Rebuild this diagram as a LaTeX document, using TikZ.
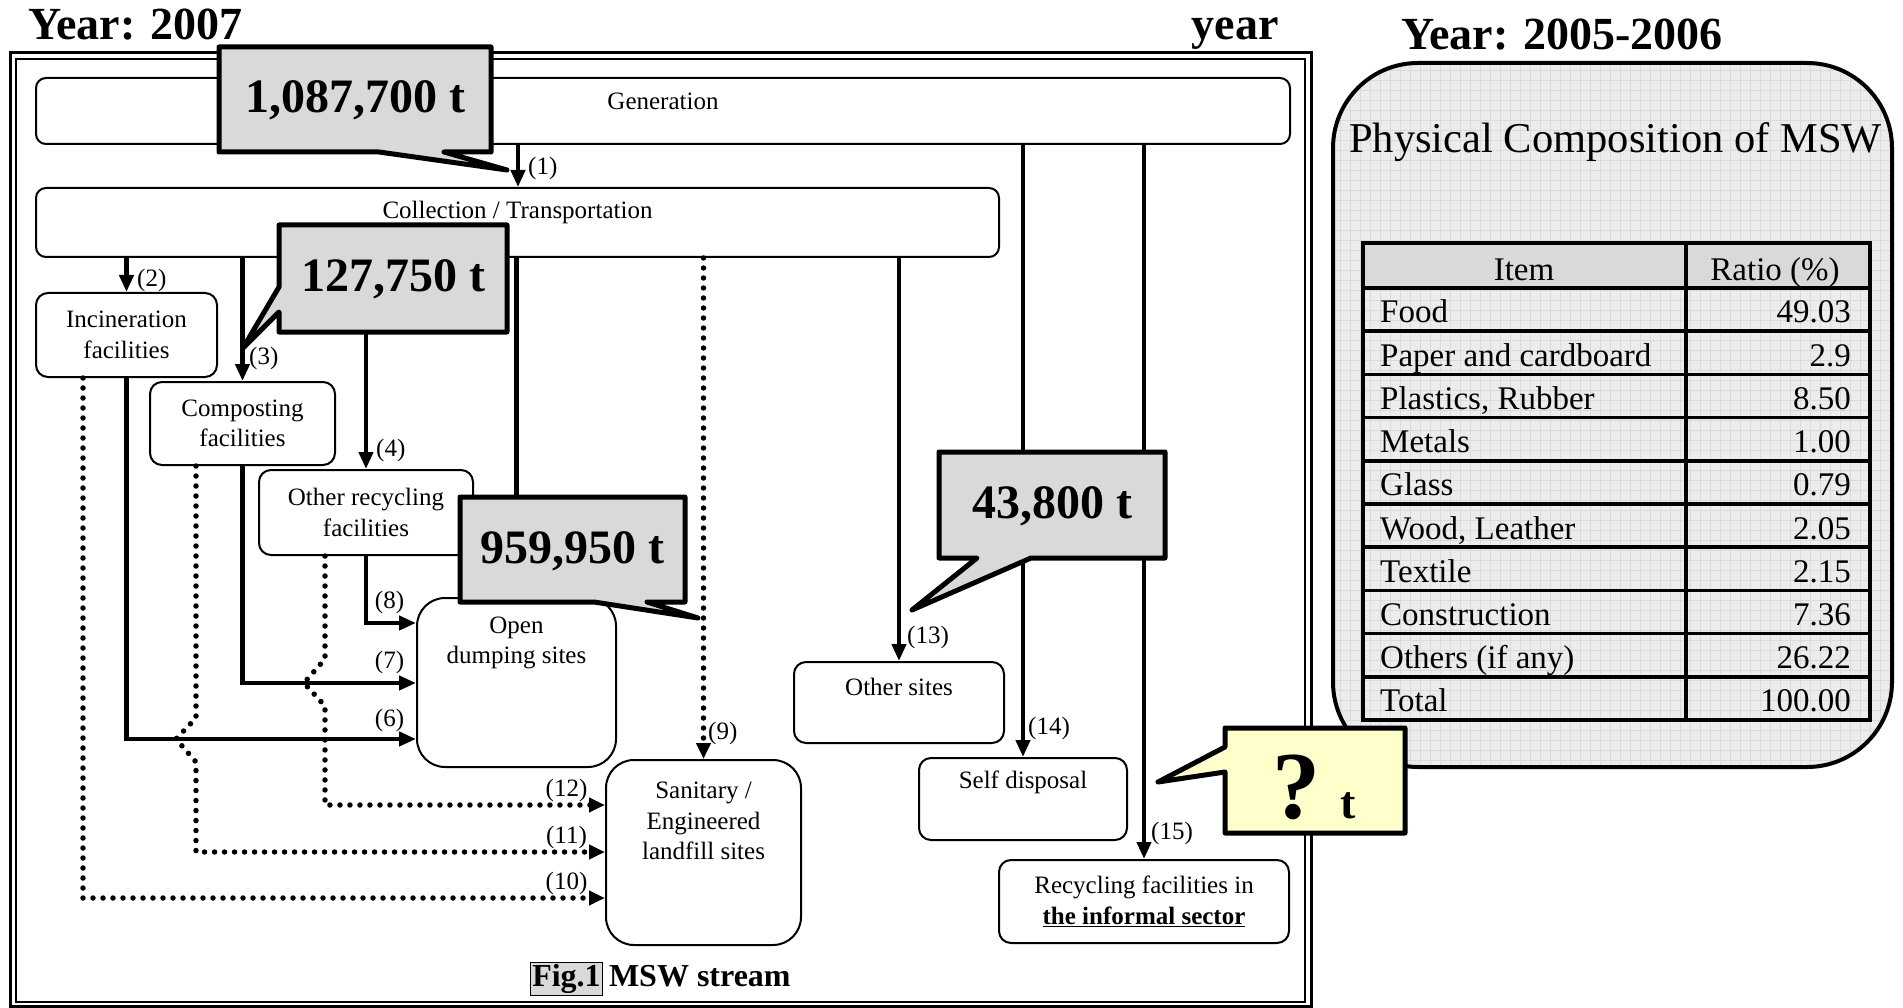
\documentclass[tikz,border=0pt]{standalone}
\usepackage{fontspec}
\setmainfont{Liberation Serif}
\usetikzlibrary{arrows.meta,positioning}
\definecolor{calgray}{HTML}{D9D9D9}
\definecolor{calyellow}{HTML}{FFFFCC}
\definecolor{panelgray}{HTML}{ECECEC}
\definecolor{gridgray}{HTML}{DADADA}
\begin{document}
\begin{tikzpicture}[x=1pt,y=-1pt,
    flowbox/.style={draw, line width=2pt, rounded corners=12pt, fill=white, inner sep=0pt},
    boxtext/.style={font=\fontsize{25}{30.5}\selectfont, align=center},
    num/.style={font=\fontsize{25}{28}\selectfont, inner sep=1pt},
    flow/.style={line width=4.3pt, -{Triangle[length=17pt,width=14pt]}},
    dots/.style={line width=5.5pt, line cap=round, dash pattern=on 0pt off 10pt,
                 -{Triangle[length=16pt,width=14pt]}},
    callout/.style={fill=calgray, draw=black, line width=5pt, line join=round},
    bignum/.style={font=\fontsize{48}{50}\selectfont\bfseries, inner sep=0pt},
    title/.style={font=\fontsize{46}{48}\selectfont\bfseries, inner sep=0pt},
    tableline/.style={draw=black, line width=3.5pt},
    cell/.style={font=\fontsize{33}{36}\selectfont, inner sep=0pt}]
  \useasboundingbox (0,0) rectangle (1903,1008);

  % headings
  \node[title, anchor=base west] (y2007) at (28,40) {Year: 2007};
  \node[title, anchor=base east] (yr) at (1279,40) {year};
  \node[title, anchor=base] (y2005) at (1562,50) {Year: 2005-2006};

  % frame
  \draw[line width=3pt] (10.5,53) rectangle (1311,1006.5);
  \draw[line width=2pt] (15.5,59) rectangle (1305,1002);

  % boxes
  \node[flowbox, rounded corners=10pt, minimum width=1254pt, minimum height=66pt] (gen) at (663,111) {};
  \node[boxtext] at ([yshift=-24pt]gen.north) {Generation};
  \node[flowbox, rounded corners=10pt, minimum width=963pt, minimum height=69pt] (coll) at (517.5,222.5) {};
  \node[boxtext] at ([yshift=-25pt]coll.north) {Collection / Transportation};
  \node[flowbox, minimum width=181pt, minimum height=84pt] (incin) at (126.5,335) {};
  \node[boxtext] at (incin) {Incineration\\facilities};
  \node[flowbox, minimum width=185pt, minimum height=83pt] (compost) at (242.5,423.5) {};
  \node[boxtext] at (compost) {Composting\\facilities};
  \node[flowbox, minimum width=214pt, minimum height=85pt] (recyc) at (366,512.5) {};
  \node[boxtext] at (recyc) {Other recycling\\facilities};
  \node[flowbox, rounded corners=28pt, minimum width=199pt, minimum height=169pt] (dump) at (516.5,682.5) {};
  \node[boxtext] at ([yshift=-46pt]dump.north) {Open\\dumping sites};
  \node[flowbox, rounded corners=28pt, minimum width=195pt, minimum height=185pt] (landfill) at (703.5,852.5) {};
  \node[boxtext] at ([yshift=-62pt]landfill.north) {Sanitary /\\Engineered\\landfill sites};
  \node[flowbox, minimum width=210pt, minimum height=81pt] (othersites) at (899,702.5) {};
  \node[boxtext] at ([yshift=-26pt]othersites.north) {Other sites};
  \node[flowbox, minimum width=208pt, minimum height=82pt] (selfdisp) at (1023,799) {};
  \node[boxtext] at ([yshift=-25pt]selfdisp.north) {Self disposal};
  \node[flowbox, minimum width=290pt, minimum height=83pt] (informal) at (1144,901.5) {};
  \node[boxtext] at (informal) {Recycling facilities in\\\underline{\textbf{the informal sector}}};

  % flows
  \coordinate (p1) at (518,0);
  \draw[flow] (gen.south -| p1) -- (coll.north -| p1);
  \draw[flow] (coll.south -| incin.north) -- (incin.north);
  \draw[flow] (coll.south -| compost.north) -- (compost.north);
  \draw[flow] (coll.south -| recyc.north) -- (recyc.north);
  \draw[flow] (coll.south -| dump.north) -- (dump.north);
  \draw[flow] (incin.south) |- (dump.west |- 0,739);
  \draw[flow] (compost.south) |- (dump.west |- 0,683);
  \draw[flow] (recyc.south) |- (dump.west |- 0,623);
  \draw[dots] (coll.south -| landfill.north) -- (landfill.north);
  \draw[dots] ([xshift=-43.5pt]incin.south) |- (landfill.west |- 0,898);
  \draw[dots] ([xshift=-46.5pt]compost.south) -- (196,718) -- (176,739) -- (196,762)
    |- (landfill.west |- 0,852);
  \draw[dots] ([xshift=-41pt]recyc.south) -- (325,659) -- (304,683) -- (325,706)
    |- (landfill.west |- 0,805);
  \draw[flow] (coll.south -| othersites.north) -- (othersites.north);
  \draw[flow] (gen.south -| selfdisp.north) -- (selfdisp.north);
  \draw[flow] (gen.south -| informal.north) -- (informal.north);

  % flow numbers
  \node[num, anchor=west] (l1) at (527,168) {(1)};
  \node[num, anchor=west] (l2) at (136,280) {(2)};
  \node[num, anchor=west] (l3) at (248,358) {(3)};
  \node[num, anchor=west] (l4) at (375,450) {(4)};
  \node[num] (l6) at (389.5,720) {(6)};
  \node[num] (l7) at (389.5,662) {(7)};
  \node[num] (l8) at (389.5,602) {(8)};
  \node[num, anchor=west] (l9) at (707,733) {(9)};
  \node[num] (l10) at (566.5,883) {(10)};
  \node[num] (l11) at (566.5,837) {(11)};
  \node[num] (l12) at (566.5,790) {(12)};
  \node[num, anchor=west] (l13) at (906,637) {(13)};
  \node[num, anchor=west] (l14) at (1027,728) {(14)};
  \node[num, anchor=west] (l15) at (1150,833) {(15)};

  % callouts
  \filldraw[callout] (219,47) -- (491,47) -- (491,152) -- (444,152) -- (507,170) -- (379,152) -- (219,152) -- cycle;
  \node[bignum] (cgen) at (355,100.5) {1,087,700 t};
  \filldraw[callout] (279,225) -- (507,225) -- (507,332) -- (279,332) -- (279,312) -- (243,348) -- (279,287) -- cycle;
  \node[bignum] (ccoll) at (393,279.5) {127,750 t};
  \filldraw[callout] (460,497) -- (685,497) -- (685,602) -- (647,602) -- (698,618) -- (594,602) -- (460,602) -- cycle;
  \node[bignum] (cdump) at (572.5,551) {959,950 t};
  \filldraw[callout] (939,452) -- (1165,452) -- (1165,558) -- (1031,558) -- (912,610) -- (977,558) -- (939,558) -- cycle;
  \node[bignum] (csites) at (1052,506) {43,800 t};

  % caption
  \node[draw, line width=1.2pt, fill=calgray, inner sep=1.5pt, font=\fontsize{32}{34}\selectfont\bfseries] (fig) at (566.5,979) {Fig.1};
  \node[anchor=base west, inner sep=0pt, font=\fontsize{32}{34}\selectfont\bfseries] (msw) at ([xshift=6pt]fig.base east) {MSW stream};

  % composition panel
  \begin{scope}
    \clip[rounded corners=85pt] (1333,63) rectangle (1892,767);
    \fill[panelgray] (1333,63) rectangle (1892,767);
    \draw[gridgray, line width=0.8pt, step=10pt] (1330,60) grid (1895,770);
  \end{scope}
  \draw[line width=4pt, rounded corners=85pt] (1333,63) rectangle (1892,767);
  \node[anchor=base, inner sep=0pt, font=\fontsize{42.5}{44}\selectfont] (phys) at (1615.5,153) {Physical Composition of MSW};

  \filldraw[tableline, fill=calgray] (1363,243) rectangle (1870,288);
  \node[cell, anchor=base] (hitem) at (1524,280) {Item};
  \node[cell, anchor=base] (hratio) at (1775,280) {Ratio (\%)};
  \foreach \item/\val [count=\i] in {Food/49.03, Paper and cardboard/2.9, {Plastics, Rubber}/8.50,
      Metals/1.00, Glass/0.79, {Wood, Leather}/2.05, Textile/2.15, Construction/7.36,
      Others (if any)/26.22, Total/100.00} {
    \node[cell, anchor=base west] (item\i) at (1380,{288+(\i-1)*43.2+35}) {\item};
    \node[cell, anchor=base east] (val\i) at (1851,{288+(\i-1)*43.2+35}) {\val};
  }
  \foreach \i in {1,...,9}
    \draw[tableline] (1363,{288+\i*43.2}) -- (1870,{288+\i*43.2});
  \draw[tableline] (1686,243) -- (1686,720);
  \draw[tableline] (1363,243) rectangle (1870,720);

  % unknown amount
  \filldraw[callout, fill=calyellow] (1225,728) -- (1405,728) -- (1405,833) -- (1225,833) -- (1225,772) -- (1158,782) -- (1225,747) -- cycle;
  \node[anchor=base west, inner sep=0pt, font=\fontsize{96}{96}\selectfont\bfseries] (cinf) at (1272,818)
    {?\hspace{20pt}{\fontsize{46}{46}\selectfont t}};
\end{tikzpicture}
\end{document}
